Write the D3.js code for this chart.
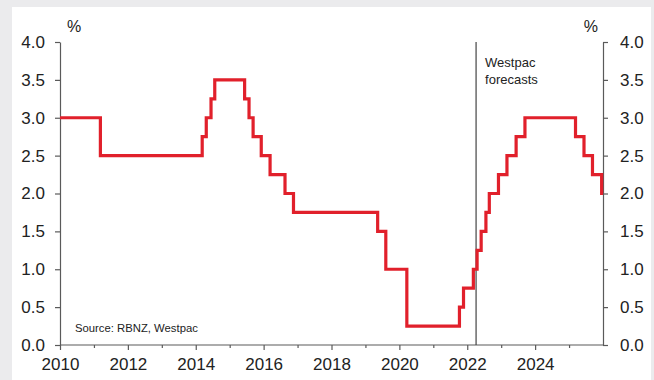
<!DOCTYPE html>
<html>
<head>
<meta charset="utf-8">
<script src="https://cdn.jsdelivr.net/npm/d3@7/dist/d3.min.js"></script>
<style>
  html, body { margin: 0; padding: 0; background: #ebebed; }
  svg { display: block; }
  text { font-family: "Liberation Sans", Arial, Helvetica, sans-serif; fill: #222; }
</style>
</head>
<body>
<svg id="chart" width="654" height="380"></svg>
<script>
// RBNZ official cash rate: dates (decimal years) where the rate changed, and the new level (%)
const changeDates = [2010.0, 2011.19, 2014.19, 2014.31, 2014.45, 2014.56, 2015.44, 2015.57,
  2015.69, 2015.93, 2016.19, 2016.63, 2016.88, 2019.36, 2019.60, 2020.22, 2021.77, 2021.89,
  2022.18, 2022.29, 2022.41, 2022.55, 2022.65, 2022.92, 2023.17, 2023.44, 2023.70,
  2025.19, 2025.44, 2025.69, 2025.96];
const ocrValues = [3.0, 2.5, 2.75, 3.0, 3.25, 3.5, 3.25, 3.0,
  2.75, 2.5, 2.25, 2.0, 1.75, 1.5, 1.0, 0.25, 0.5, 0.75,
  1.0, 1.25, 1.5, 1.75, 2.0, 2.25, 2.5, 2.75, 3.0,
  2.75, 2.5, 2.25, 2.0];
const forecastStart = 2022.26;
const xDomain = [2010, 2026];
const yDomain = [0, 4];
const xTickLabels = [2010, 2012, 2014, 2016, 2018, 2020, 2022, 2024];
const xMinorTicks = [2011, 2013, 2015, 2017, 2019, 2021, 2023, 2025];
const yTicks = [0, 0.5, 1.0, 1.5, 2.0, 2.5, 3.0, 3.5, 4.0];

const svg = d3.select("#chart");
const axisColor = "#5a5a5a";

// white panel
svg.append("rect").attr("x", 12).attr("y", 7).attr("width", 639).attr("height", 373).attr("fill", "#fff");

const x = d3.scaleLinear().domain(xDomain).range([60, 603]);
const y = d3.scaleLinear().domain(yDomain).range([345, 42]);

// left axis
const gL = svg.append("g").attr("transform", "translate(60,0)")
  .call(d3.axisLeft(y).tickValues(yTicks).tickFormat(d3.format(".1f")).tickSize(5).tickSizeOuter(0).tickPadding(10));
// right axis
const gR = svg.append("g").attr("transform", "translate(603,0)")
  .call(d3.axisRight(y).tickValues(yTicks).tickFormat(d3.format(".1f")).tickSize(5).tickSizeOuter(0).tickPadding(12));
// bottom axis with labelled major ticks
const gB = svg.append("g").attr("transform", "translate(0,345)")
  .call(d3.axisBottom(x).tickValues(xTickLabels).tickFormat(d3.format("d")).tickSize(5).tickSizeOuter(0).tickPadding(8));
// minor yearly ticks
const gM = svg.append("g").attr("transform", "translate(0,345)")
  .call(d3.axisBottom(x).tickValues(xMinorTicks).tickFormat("").tickSize(3).tickSizeOuter(0));
gM.select(".domain").remove();

[gL, gR, gB, gM].forEach(g => {
  g.selectAll(".domain").attr("stroke", axisColor).attr("stroke-width", 1.2);
  g.selectAll(".tick line").attr("stroke", axisColor).attr("stroke-width", 1.2);
  g.selectAll(".tick text").attr("font-size", 17).attr("fill", "#222")
    .style("font-family", '"Liberation Sans", Arial, sans-serif');
});
gB.select(".domain").attr("d", `M60,0H603`);

// unit labels
svg.append("text").attr("x", 67).attr("y", 32).attr("font-size", 16).text("%");
svg.append("text").attr("x", 598).attr("y", 32).attr("font-size", 16).attr("text-anchor", "end").text("%");

// forecast divider
svg.append("line")
  .attr("x1", x(forecastStart)).attr("x2", x(forecastStart))
  .attr("y1", y(4)).attr("y2", y(0))
  .attr("stroke", "#444").attr("stroke-width", 1.2);
const ft = svg.append("text").attr("x", x(forecastStart) + 9).attr("y", 67).attr("font-size", 13);
ft.append("tspan").attr("x", x(forecastStart) + 9).text("Westpac");
ft.append("tspan").attr("x", x(forecastStart) + 9).attr("dy", 17).text("forecasts");

// source note
svg.append("text").attr("x", 75).attr("y", 332).attr("font-size", 11.3).text("Source: RBNZ, Westpac");

// OCR step line, held at the last level to the end of the axis
const points = changeDates.map((d, i) => [d, ocrValues[i]]);
points.push([xDomain[1], ocrValues[ocrValues.length - 1]]);
const line = d3.line().x(d => x(d[0])).y(d => y(d[1])).curve(d3.curveStepAfter);
svg.append("path").datum(points)
  .attr("d", line)
  .attr("fill", "none")
  .attr("stroke", "#e1202b")
  .attr("stroke-width", 3.2)
  .attr("stroke-linejoin", "miter");
</script>
</body>
</html>
